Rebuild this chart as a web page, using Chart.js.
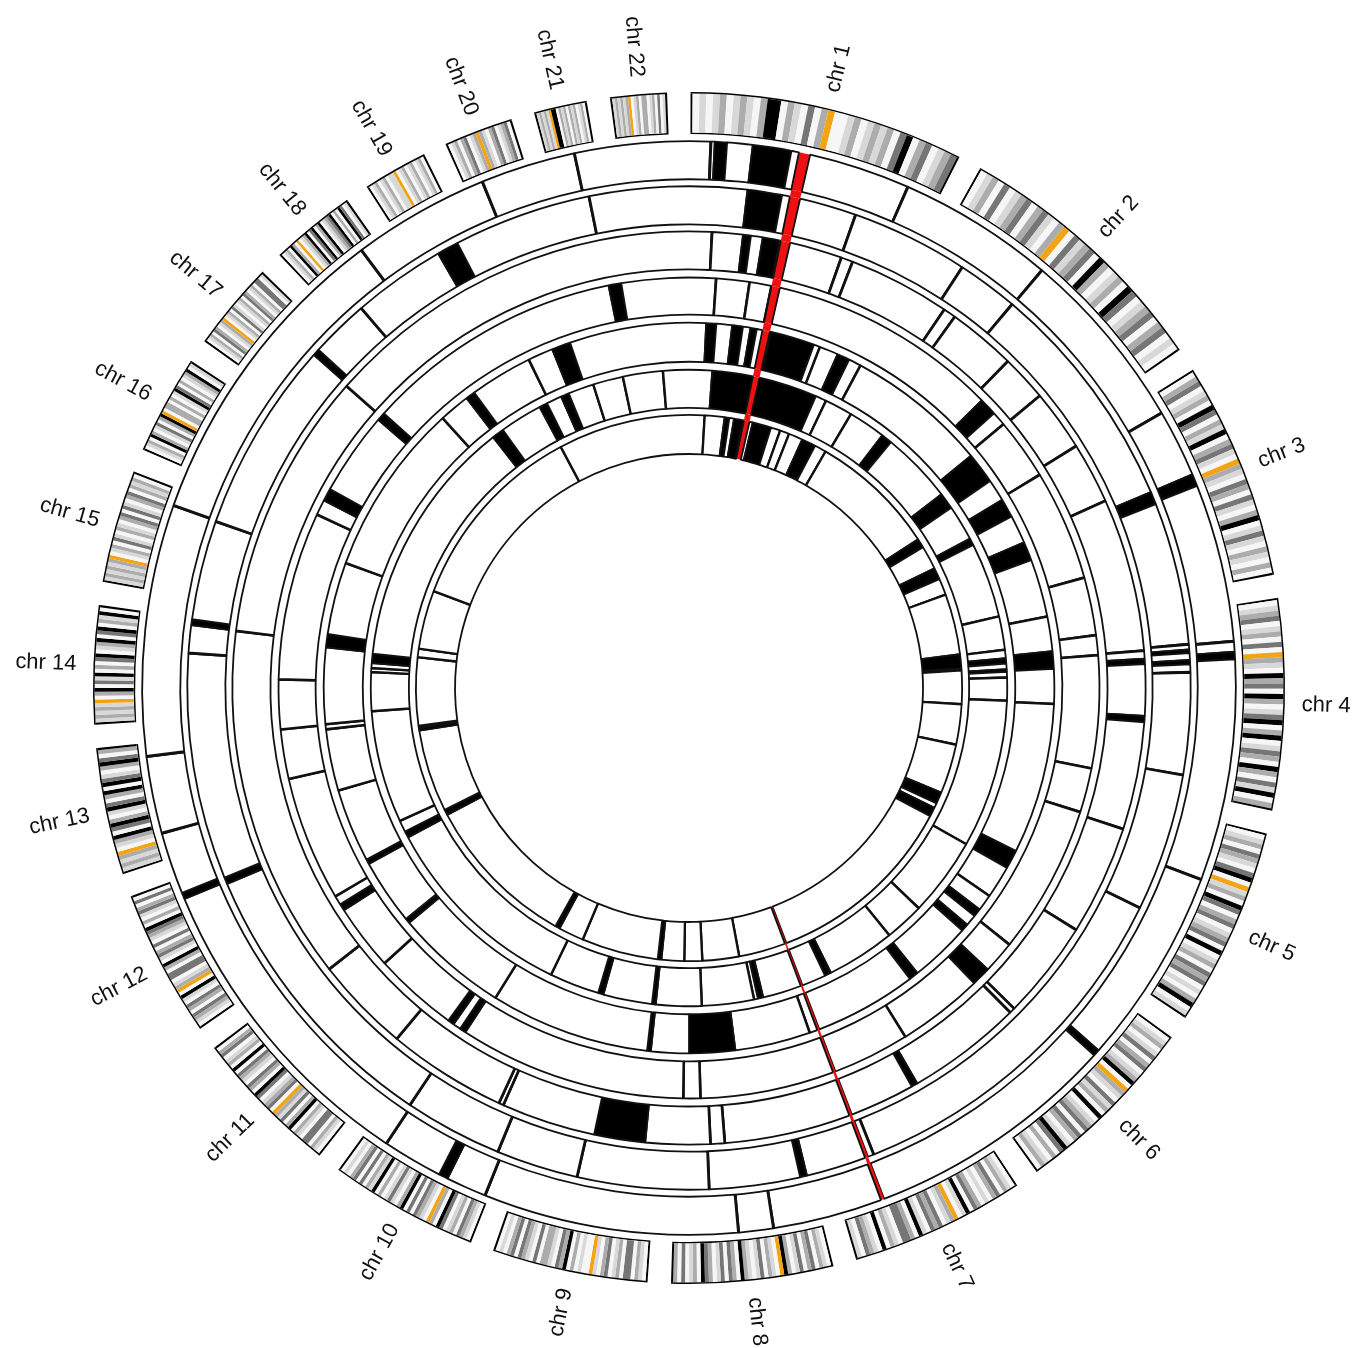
<!DOCTYPE html>
<html>
<head>
<meta charset="utf-8">
<style>
  html, body { margin: 0; padding: 0; background: #fff; }
  #wrap { width: 1364px; height: 1348px; }
</style>
<script src="https://cdn.jsdelivr.net/npm/chart.js@4.4.1/dist/chart.umd.min.js"></script>
</head>
<body>
<div id="wrap"><canvas id="circos" width="1364" height="1348"></canvas></div>
<script>
// ---- data ----

// chromosomes (Mb) and a rough cytoband pattern for each one
// w white, l light grey, g grey, d dark grey, k black, o centromere (orange)
const chrNames = ['1','2','3','4','5','6','7','8','9','10','11','12','13','14','15','16','17','18','19','20','21','22'];
const chrLengths = [249.3, 243.2, 198.0, 191.2, 180.9, 171.1, 159.1, 146.4, 141.2, 135.5, 135.0, 133.9, 115.2, 107.3, 102.5, 90.4, 81.2, 78.1, 59.1, 63.0, 48.1, 51.3];
const chrBands = [
  'wlwlgwlglwgkkwglwdwgowwlgwlglgwdkwgdwlgd',
  'wlgwdwlgdwgdlwgowdlgdwkgwlgwkdwlgdwgdwlw',
  'wgdwlgwkdwglkwgdlwoglwdgwdlwgkwldlwglwgw',
  'wlgdwlgwdwoglwkgdwkgwldkwgkwldgwkgwdlkwg',
  'wlgwdglwdkwolgwkdwgdwlgdwkwlgwdgdwlwgkwl',
  'wlgwldwgdwlgkwoglwdlgwkwlgdwdgwlkdwgwlgw',
  'wlgwdgwlwgdwklwoglwdgdwlkwgddwlgwkwlgdwl',
  'wlgwdgwdlwgkowlgwdlwlgkwgdwdlwgdkwglwdwg',
  'wlgwddwglwdgwlowwlwgwkgdwlggwdwlgdwdgwlw',
  'wlgdwglwdkwgowlgdwdwkgwldlwgwklgwdwdgwlw',
  'wlgwddwlgwkgwdlgowdglwdkwgdwlgdwkwglwdgw',
  'wlgdwgdwlkwoglwddwgkwldgwdwlgdkwgwldgwdw',
  'lglgowlgkwdkgwlkdwgkwkdlwgkdwg',
  'lglglowgkwdlkwgwdkwlgkwdkwglkw',
  'lglglgowlgwdlwglwgdwdlwgdwglgw',
  'wlgwkgwldwgkowggwgwlkdwgwlgkwl',
  'wlgwdgwlgowlgwdlwlgwdgwlgwddwl',
  'wlgwkgwowlgkwdkwgkwlgdkwgwkdwl',
  'wlgwlgwllowlgwlgwlgw',
  'wlgwgdwlgoglwgdwlgdw',
  'lglglokkwglgwglgwlgw',
  'lglglgowlgwggwlgwdwl'
];
const gapMb = 21;        // space left between two chromosomes
const startDeg = 0.15;   // where chr 1 begins, clockwise from 12 o'clock

// events of the seven tracks, outer to inner: [from, to] in degrees clockwise from the top
// (from == to is a hair line)
const track1 = [[2.3,2.3],[2.7,4.0],[6.7,10.8],[23.6,23.6],[40.2,40.2],[59.8,59.8],[67.0,68.3],[85.1,85.1],[86.2,87.0],[110.5,110.5],[131.5,132.2],[171.1,171.1],[174.8,174.8],[201.9,201.9],[206.2,207.2],[213.6,213.6],[247.3,248.0],[254.6,254.6],[262.8,262.8],[289.5,289.5],[323.2,323.2],[337.8,337.8],[347.9,347.9]];
const track2 = [[6.7,10.7],[19.4,19.4],[33.0,33.0],[40.1,40.1],[67.0,68.5],[85.0,85.0],[85.6,86.0],[86.8,87.3],[88.2,88.2],[100.0,100.0],[116.0,116.0],[158.4,158.4],[166.4,167.2],[177.7,177.7],[192.9,192.9],[202.4,202.4],[213.8,213.8],[247.0,247.8],[274.0,274.0],[277.2,277.9],[289.4,289.4],[311.6,312.4],[319.2,319.2],[330.0,332.5],[348.5,348.5]];
const track3 = [[2.9,2.9],[6.8,7.8],[9.3,11.5],[19.5,19.5],[21.0,21.0],[34.0,34.0],[35.6,35.6],[44.3,44.3],[50.2,50.2],[58.0,58.0],[65.8,65.8],[85.3,85.3],[86.3,87.0],[93.5,94.3],[108.0,108.0],[122.0,122.0],[134.6,134.6],[135.3,135.3],[150.0,150.8],[175.5,175.5],[177.3,177.3],[185.5,192.0],[204.0,204.0],[204.6,204.6],[219.8,219.8],[232.0,232.0],[277.2,277.2],[311.4,311.4]];
const track4 = [[3.8,3.8],[8.5,8.5],[11.6,11.6],[45.5,48.0],[50.0,50.0],[58.7,58.7],[74.4,74.4],[82.6,82.6],[85.4,85.4],[101.3,101.3],[107.6,107.6],[128.7,128.7],[133.3,136.0],[148.2,148.2],[178.4,178.4],[180.8,180.8],[213.0,213.9],[215.0,215.9],[227.9,227.9],[237.2,238.2],[239.5,239.5],[257.2,257.2],[264.2,264.2],[271.2,271.2],[295.0,295.0],[297.2,299.0],[310.8,312.0],[348.7,350.5]];
const track5 = [[2.7,4.3],[6.8,8.5],[9.7,10.7],[13.0,20.0],[21.0,21.0],[24.0,26.0],[28.0,28.0],[50.5,55.5],[59.0,62.0],[66.5,69.5],[78.7,78.7],[84.2,87.0],[92.5,92.5],[116.5,119.5],[124.7,124.7],[127.3,128.6],[130.4,131.6],[141.3,142.8],[160.7,160.7],[172.7,180.0],[186.0,186.6],[212.0,212.0],[230.0,230.8],[241.2,242.0],[253.7,253.7],[263.5,263.5],[264.3,264.3],[276.4,278.5],[290.0,290.0],[317.6,317.6],[322.5,324.0],[334.0,334.0],[338.0,341.0]];
const track6 = [[4.2,23.5],[25.5,25.5],[30.6,30.6],[37.4,39.4],[52.5,55.5],[62.0,63.3],[77.0,77.0],[83.1,83.1],[84.6,85.6],[86.6,87.1],[88.1,88.1],[92.3,92.3],[119.4,119.4],[133.8,133.8],[141.0,141.0],[153.5,154.7],[166.5,167.5],[168.2,168.2],[177.7,177.7],[186.0,186.7],[195.6,196.6],[205.7,205.7],[242.0,243.2],[245.3,245.3],[265.8,265.8],[272.9,272.9],[273.6,273.6],[274.5,276.2],[322.0,324.2],[332.0,333.5],[336.3,337.8],[342.5,342.5],[348.0,348.0],[355.3,355.3]];
const track7 = [[3.3,3.3],[7.5,8.5],[9.5,11.5],[13.5,17.5],[19.5,19.5],[21.5,21.5],[24.5,27.5],[30.0,30.0],[57.0,59.0],[64.0,66.5],[70.0,70.0],[82.9,85.9],[86.3,86.3],[93.4,93.4],[102.0,102.0],[112.5,115.0],[116.0,118.0],[169.4,169.4],[177.2,177.2],[181.0,181.0],[185.8,186.6],[202.9,202.9],[208.3,209.3],[242.3,243.5],[261.0,261.6],[262.0,262.0],[276.5,276.5],[278.3,278.3],[290.8,290.8],[332.0,332.0]];

// red links crossing all the tracks
const redLinks = [[11.6,12.8],[159.1,159.45]];

// ---- build the rings ----

const bandColors = { w: '#f6f6f6', l: '#d8d8d8', g: '#acacac', d: '#767676', k: '#000000', o: '#f2a413' };
const NONE = 'rgba(0,0,0,0)';
const RED = '#ee1111';
const totalMb = chrLengths.reduce((a, b) => a + b, 0) + gapMb * chrLengths.length;
const degPerMb = 360 / totalMb;

// push a piece, merging it with the last one if the colour is the same
function push(ring, span, color) {
  const n = ring.data.length;
  if (n && ring.colors[n - 1] === color) { ring.data[n - 1] += span; return; }
  ring.data.push(span);
  ring.colors.push(color);
}

const frame = { data: [], colors: [] };
const bands = { data: [], colors: [] };
const labelIndex = [];
push(frame, startDeg, NONE); labelIndex.push(-1);
push(bands, startDeg, NONE);
chrLengths.forEach((len, i) => {
  const span = len * degPerMb;
  frame.data.push(span); frame.colors.push('#000'); labelIndex.push(i);
  const cap = 0.2;
  push(bands, cap, '#000');
  const codes = chrBands[i];
  for (const c of codes) push(bands, (span - 2 * cap) / codes.length, bandColors[c]);
  push(bands, cap, '#000');
  const gap = i === chrLengths.length - 1 ? gapMb * degPerMb - startDeg : gapMb * degPerMb;
  frame.data.push(gap); frame.colors.push(NONE); labelIndex.push(-1);
  push(bands, gap, NONE);
});

// a track: white ring with black events, the red links painted over them.
// The ring starts at the first red link so no seam shows at 12 o'clock.
const ringStart = redLinks[0][0];
function shift(list) {
  const out = [];
  list.forEach(([a, b]) => {
    const p = (a - ringStart + 360) % 360, q = (b - ringStart + 360) % 360;
    if (q >= p) out.push([p, q]); else { out.push([p, 360]); out.push([0, q]); }
  });
  return out;
}
function trackRing(events, base) {
  const marks = shift(events.map(([a, b]) => (b - a < 0.12 ? [a - 0.06, a + 0.06] : [a, b])));
  const reds = shift(redLinks);
  const cuts = new Set([0, 360]);
  marks.concat(reds).forEach(([a, b]) => { cuts.add(a); cuts.add(b); });
  const pts = [...cuts].sort((a, b) => a - b);
  const ring = { data: [], colors: [], rotation: ringStart };
  for (let i = 0; i < pts.length - 1; i++) {
    const p = pts[i], q = pts[i + 1];
    if (q - p <= 0) continue;
    const m = (p + q) / 2;
    let color = base;
    if (marks.some(([a, b]) => m > a && m < b)) color = '#000000';
    if (reds.some(([a, b]) => m > a && m < b)) color = RED;
    push(ring, q - p, color);
  }
  return ring;
}

function dataset(ring, weight, border) {
  return {
    data: ring.data,
    rotation: ring.rotation || 0,
    backgroundColor: ring.colors,
    borderColor: ring.colors.map(c => (c === RED || c === NONE ? c : '#111111')),
    borderWidth: ring.colors.map(c => (border && c !== RED && c !== NONE ? 1.8 : 0)),
    weight: weight
  };
}

const tracks = [track1, track2, track3, track4, track5, track6, track7];
// ring thicknesses in px, outer to inner
const trackWeights = [38, 38, 38, 37, 39, 38, 39];
const gapWeights = [7, 7, 8, 8, 8, 7];

const datasets = [
  dataset(frame, 1.5, false),
  dataset(bands, 39, false),
  dataset(frame, 1.5, false),
  dataset({ data: [360], colors: [NONE] }, 7, false)
];
tracks.forEach((t, i) => {
  datasets.push(dataset(trackRing(t, '#ffffff'), trackWeights[i], true));
  if (i < gapWeights.length) datasets.push(dataset(trackRing([], NONE), gapWeights[i], false));
});

// chromosome names around the outside
const chrLabels = {
  id: 'chrLabels',
  afterDatasetsDraw(chart) {
    const ctx = chart.ctx;
    const meta = chart.getDatasetMeta(0);
    ctx.save();
    ctx.font = '22px "Liberation Sans", Arial, sans-serif';
    ctx.fillStyle = '#111';
    ctx.textBaseline = 'middle';
    meta.data.forEach((arc, j) => {
      const i = labelIndex[j];
      if (i < 0) return;
      const { x, y, startAngle, endAngle, outerRadius } = arc.getProps(['x', 'y', 'startAngle', 'endAngle', 'outerRadius'], true);
      const mid = (startAngle + endAngle) / 2;
      const r = outerRadius + 17;
      let theta = (mid + Math.PI / 2) % (2 * Math.PI);
      if (theta < 0) theta += 2 * Math.PI;
      ctx.save();
      ctx.translate(x + r * Math.cos(mid), y + r * Math.sin(mid));
      if (theta <= Math.PI) { ctx.rotate(mid); ctx.textAlign = 'left'; }
      else { ctx.rotate(mid + Math.PI); ctx.textAlign = 'right'; }
      ctx.fillText('chr ' + chrNames[i], 0, 0);
      ctx.restore();
    });
    ctx.restore();
  }
};

new Chart(document.getElementById('circos'), {
  type: 'doughnut',
  data: { datasets: datasets },
  options: {
    responsive: false,
    animation: false,
    events: [],
    rotation: 0,
    circumference: 360,
    cutout: 234,
    layout: { padding: { left: 93, right: 79, top: 92, bottom: 64 } },
    plugins: { legend: { display: false }, tooltip: { enabled: false } }
  },
  plugins: [chrLabels]
});
</script>
</body>
</html>
